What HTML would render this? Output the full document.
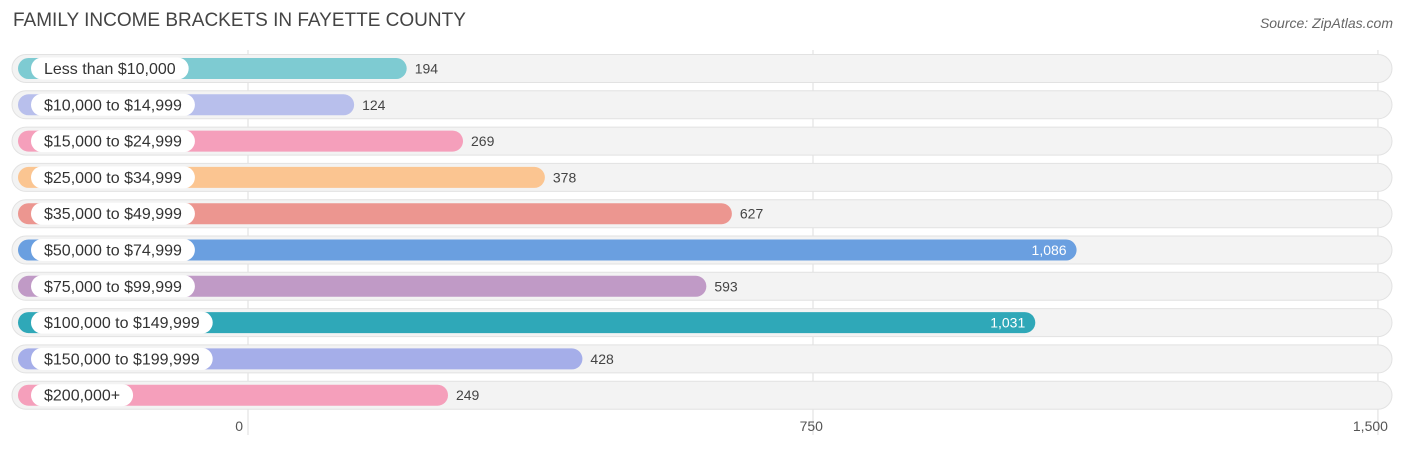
<!DOCTYPE html>
<html><head><meta charset="utf-8"><style>
body{margin:0;width:1406px;height:450px;background:#fff;font-family:"Liberation Sans",sans-serif;overflow:hidden;position:relative}
.t{position:absolute;left:13px;top:10px;font-size:19px;color:#444}
.s{position:absolute;right:13px;top:15px;font-size:14px;color:#666;font-style:italic}
</style></head><body>
<div class="t">FAMILY INCOME BRACKETS IN FAYETTE COUNTY</div>
<div class="s">Source: ZipAtlas.com</div>
<svg id="c" width="1406" height="450" style="position:absolute;left:0;top:0"></svg>
<script>
const categories=["Less than $10,000","$10,000 to $14,999","$15,000 to $24,999","$25,000 to $34,999","$35,000 to $49,999","$50,000 to $74,999","$75,000 to $99,999","$100,000 to $149,999","$150,000 to $199,999","$200,000+"];
const values=[194,124,269,378,627,1086,593,1031,428,249];
const colors=["#7ecbd2","#b8bfec","#f59fbb","#fbc591","#ec9690","#6a9fe0","#c09ac6","#2fa8b8","#a5aee9","#f59fbb"];
const tickValues=[0,750,1500];
const tickLabels=["0","750","1,500"];
const svg=document.getElementById('c');const NS="http://www.w3.org/2000/svg";
function x(v){return 248+v*0.7533;}
function barEnd(v){return 261+v*0.751;}
function rowY(i){return 68.5+i*36.3;}
function mk(t,a,p){const e=document.createElementNS(NS,t);for(const k in a)e.setAttribute(k,a[k]);(p||svg).appendChild(e);return e;}
tickValues.forEach((v,i)=>{
const l=mk('line',{x1:x(v),x2:x(v),y1:50,y2:435,stroke:'#ddd','stroke-width':1});


});
categories.forEach((c,i)=>{
const y=rowY(i);
const tr=mk('rect',{x:12,y:y-14,width:1380,height:28,rx:14,fill:'#f3f3f3',stroke:'#e2e2e2'});


const b=mk('rect',{x:18,y:y-10.5,width:barEnd(values[i])-18,height:21,rx:10.5,fill:colors[i]});


const lt=mk('text',{x:44,y:y+5.5,'font-size':16,fill:'#333'});lt.textContent=c;
const w=lt.getComputedTextLength();
const pill=mk('rect',{x:31,y:y-11,width:w+26,height:22,rx:11,fill:'#fff'});
svg.insertBefore(pill,lt);




const inside=values[i]>900;
const vt=mk('text',{x:inside?barEnd(values[i])-10:barEnd(values[i])+8,y:y+5,'font-size':14,fill:inside?'#fff':'#444','text-anchor':inside?'end':'start'});
vt.textContent=values[i].toLocaleString('en-US');


});
tickValues.forEach((v,i)=>{
const t=mk('text',{x:x(v)-(i==0?5:i==1?-10:-10),y:431,'font-size':14,fill:'#555','text-anchor':i==0?'end':'end'});
t.textContent=tickLabels[i];


});
</script>
</body></html>
